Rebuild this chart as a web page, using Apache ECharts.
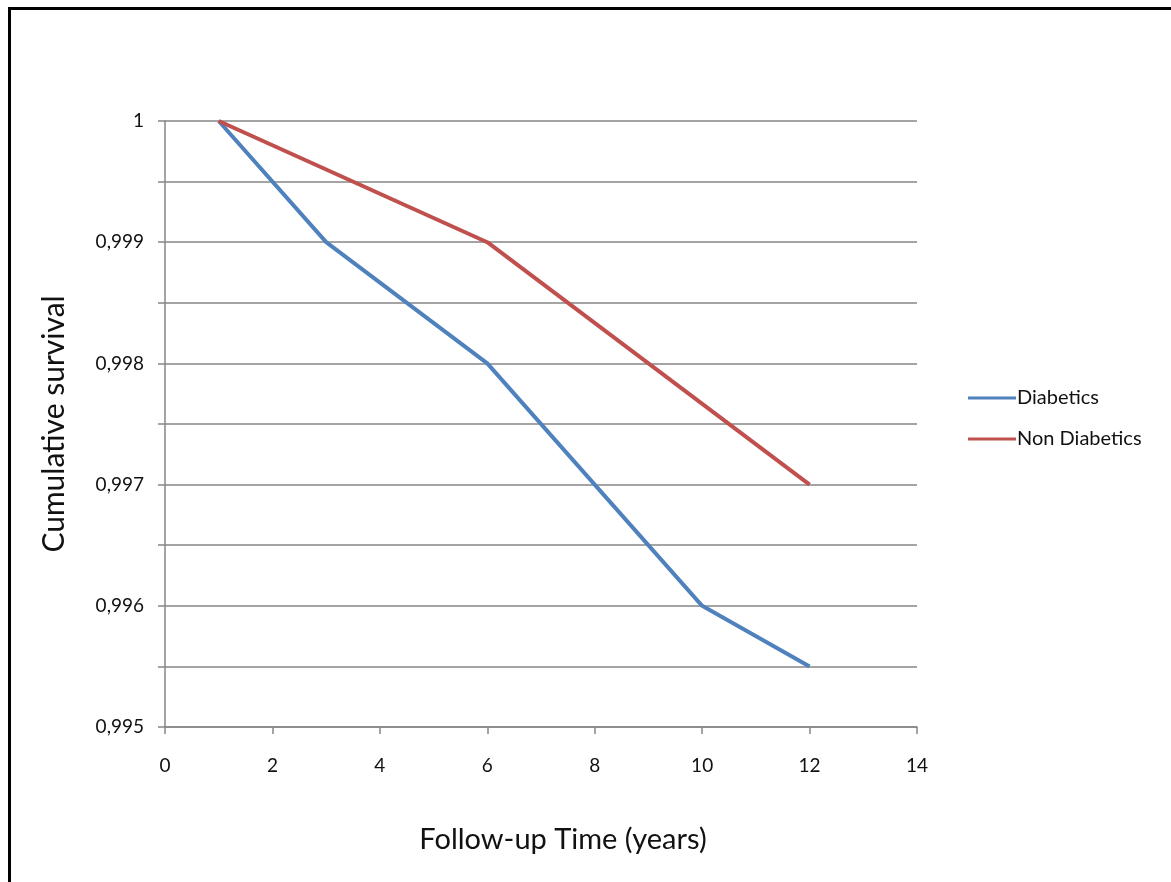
<!DOCTYPE html>
<html>
<head>
<meta charset="utf-8">
<script src="https://cdn.jsdelivr.net/npm/echarts@6/dist/echarts.min.js"></script>
<style>
    html, body { margin: 0; padding: 0; background: #fff; }
    #frame { position: absolute; left: 8px; top: 7px; width: 1163px; height: 875px;
             border-top: 3px solid #000; border-left: 3px solid #000; }
    #chart { position: absolute; left: 0; top: 0; width: 1171px; height: 882px; }
</style>
</head>
<body>
<div id="frame"></div>
<div id="chart"></div>
<script>
// 随访时间 (年)
var diabYears = [1, 3, 6, 10, 12];
var diabSurv = [1, 0.999, 0.998, 0.996, 0.9955];
var nonYears = [1, 6, 12];
var nonSurv = [1, 0.999, 0.997];
var seriesNames = ['Diabetics', 'Non Diabetics'];

function pairs(xs, ys) {
    var out = [];
    for (var i = 0; i < xs.length; i++) {
        out.push([xs[i], ys[i]]);
    }
    return out;
}

var myChart = echarts.init(document.getElementById('chart'));
var font = 'Lato, "Open Sans", sans-serif';
option = {
    backgroundColor: 'transparent',
    animation: false,
    textStyle: { fontFamily: font },
    grid: { left: 165, right: 254, top: 121, bottom: 155 },
    legend: {
        orient: 'vertical',
        left: 963,
        top: 383,
        itemWidth: 48,
        itemHeight: 14,
        itemGap: 21,
        icon: 'path://M0,6 L48,6 L48,9 L0,9 Z',
        textStyle: { fontFamily: font, fontSize: 20, color: '#111', padding: [0, 0, 0, -4] },
        data: seriesNames
    },
    xAxis: {
        type: 'value',
        min: 0,
        max: 14,
        interval: 2,
        name: 'Follow-up Time (years)',
        nameLocation: 'middle',
        nameGap: 98,
        nameTextStyle: { fontSize: 29, color: '#111', fontFamily: font, padding: [0, 0, 0, 44] },
        axisLine: { show: true, lineStyle: { color: '#868686', width: 1.5 } },
        axisTick: { show: true, length: 7, lineStyle: { color: '#868686', width: 1.5 } },
        axisLabel: { margin: 29, fontSize: 19, color: '#111' },
        splitLine: { show: false }
    },
    yAxis: {
        type: 'value',
        min: 0.995,
        max: 1,
        interval: 0.0005,
        name: 'Cumulative survival',
        nameLocation: 'middle',
        nameGap: 96,
        nameTextStyle: { fontSize: 30, color: '#111', fontFamily: font },
        axisLine: { show: true, lineStyle: { color: '#868686', width: 1.5 } },
        axisTick: { show: true, length: 7, lineStyle: { color: '#868686', width: 1.5 } },
        axisLabel: {
            margin: 21,
            fontSize: 19,
            color: '#111',
            formatter: function (v) {
                var k = Math.round(v * 10000);
                if (k % 10 !== 0) return '';
                if (k === 10000) return '1';
                return (k / 10000).toFixed(3).replace('.', ',');
            }
        },
        splitLine: { show: true, lineStyle: { color: '#868686', width: 1.5 } }
    },
    series: [
        {
            name: seriesNames[0],
            type: 'line',
            showSymbol: false,
            symbol: 'none',
            color: '#4F81BD',
            lineStyle: { width: 4, color: '#4F81BD' },
            data: pairs(diabYears, diabSurv)
        },
        {
            name: seriesNames[1],
            type: 'line',
            showSymbol: false,
            symbol: 'none',
            color: '#C0504D',
            lineStyle: { width: 4, color: '#C0504D' },
            data: pairs(nonYears, nonSurv)
        }
    ]
};
myChart.setOption(option);
</script>
</body>
</html>
